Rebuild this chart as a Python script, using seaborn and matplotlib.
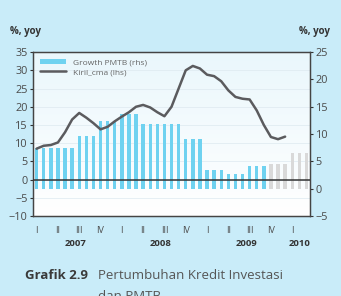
import numpy as np
import pandas as pd
import seaborn as sns
import matplotlib.pyplot as plt
from matplotlib.lines import Line2D
from matplotlib.patches import Patch
import matplotlib.transforms as mtransforms

# monthly bars, Jan 2007 .. Mar 2010 (quarterly values repeated per month)
pmtb_quarterly = [7.5, 7.5, 9.6, 12.4, 13.6, 11.9, 11.9, 9.1, 3.4, 2.7, 4.2, 4.5, 6.5]
pmtb_is_forecast = [False] * 11 + [True] * 2
# Kiril_cma, Jan 2007 .. Dec 2009
kiril_cma = [8.5, 9.3, 9.5, 10.2, 13.0, 16.5, 18.3, 17.0, 15.5, 13.8, 14.5, 16.0,
             17.3, 18.5, 20.0, 20.5, 19.8, 18.5, 17.4, 20.0, 25.0, 30.0, 31.2, 30.5,
             28.8, 28.4, 27.0, 24.5, 22.7, 22.2, 22.0, 19.0, 15.0, 11.7, 11.1, 11.8]
quarter_labels = ['I', 'II', 'III', 'IV']
years = ['2007', '2008', '2009', '2010']

bars = pd.DataFrame({
    'month': np.arange(len(pmtb_quarterly) * 3),
    'pmtb': np.repeat(pmtb_quarterly, 3),
    'kind': np.where(np.repeat(pmtb_is_forecast, 3), 'proj', 'real'),
})
line = pd.DataFrame({'month': np.arange(len(kiril_cma)), 'kiril': kiril_cma})

bg = '#c9ecf9'
bar_col = '#6fd2f0'
grey_bar = '#d9d9d9'
line_col = '#5b5b5e'
txt = '#4a4a4a'

sns.set_style('white')
plt.rcParams['font.family'] = ['Open Sans', 'DejaVu Sans']

fig = plt.figure(figsize=(3.41, 2.96), dpi=100, facecolor=bg)
ax = fig.add_axes([0.097, 0.27, 0.812, 0.554])
ax2 = ax.twinx()

# gradient plot background on the lower axis
grad = np.linspace(0, 1, 100).reshape(-1, 1)
ax2.imshow(grad, extent=[0, 1, 0, 1], transform=ax2.transAxes, aspect='auto',
           cmap=sns.blend_palette(['#ffffff', '#eaf7fc'], as_cmap=True),
           origin='lower', zorder=0)

sns.barplot(data=bars, x='month', y='pmtb', hue='kind',
            palette={'real': bar_col, 'proj': grey_bar}, dodge=False, saturation=1,
            width=0.48, linewidth=0, legend=False, ax=ax2, zorder=2)
ax2.set_ylim(-5, 25)
ax2.set_yticks(range(-5, 30, 5))

ax.set_zorder(ax2.get_zorder() + 1)
ax.patch.set_visible(False)
ax.set_ylim(-10, 35)
ax.set_yticks(range(-10, 40, 5))
for v in range(-5, 35, 5):
    ax2.axhline(ax2.get_ylim()[0] + (v + 10) * 30 / 45, color='#dde9f0', lw=0.5, zorder=1)
ax.axhline(0, color='#333333', lw=1.1, zorder=3)
sns.lineplot(data=line, x='month', y='kiril', color=line_col, lw=1.8, ax=ax, zorder=4)

n = len(bars)
ax.set_xlim(-0.5, n - 0.5)
ax2.set_xlim(-0.5, n - 0.5)
ax.set_xticks(range(n))
ax.set_xticklabels([quarter_labels[(i // 3) % 4] if i % 3 == 0 else '' for i in range(n)])
ax.tick_params(axis='x', direction='in', length=2, width=0.6, colors='#333333',
               labelcolor=txt, labelsize=6.5, pad=7)
ax.tick_params(axis='y', direction='out', length=2.5, width=0.8, colors='#333333',
               labelcolor=txt, labelsize=7.8, pad=1.5)
ax2.tick_params(axis='y', direction='out', length=2.5, width=0.8, colors='#333333',
                labelcolor=txt, labelsize=7.8, pad=1.5)
ax.set_xlabel('')
ax.set_ylabel('')
ax2.set_xlabel('')
ax2.set_ylabel('')
for a in (ax, ax2):
    for s in a.spines.values():
        s.set_color('#444444')
        s.set_linewidth(0.9)

trans = mtransforms.blended_transform_factory(ax.transData, ax.transAxes)
for k, y in enumerate(years):
    start = k * 12
    end = min(start + 12, n)
    ax.text((start + end - 1) / 2, -0.17, y, transform=trans, ha='center', va='center',
            fontsize=6.8, fontweight='bold', color='#333333')

fig.text(0.03, 0.885, '%, yoy', fontsize=7, fontweight='bold', color='#333333')
fig.text(0.968, 0.885, '%, yoy', fontsize=7, fontweight='bold', color='#333333', ha='right')

handles = [Patch(facecolor=bar_col, edgecolor='none'),
           Line2D([0], [0], color=line_col, lw=1.8)]
leg = ax.legend(handles, ['Growth PMTB (rhs)', 'Kiril_cma (lhs)'], loc='upper left',
                frameon=False, fontsize=6, handlelength=3.2, handleheight=0.6,
                labelspacing=0.25, borderaxespad=0.4)
for t in leg.get_texts():
    t.set_color('#666666')

fig.text(0.072, 0.068, 'Grafik 2.9', fontsize=9.5, fontweight='bold', color='#3a3a3a', va='center')
fig.text(0.288, 0.068, 'Pertumbuhan Kredit Investasi', fontsize=9.5, color='#555555', va='center')
fig.text(0.288, 0.0, 'dan PMTB', fontsize=9.5, color='#555555', va='center')

fig.savefig('out.png', dpi=100, facecolor=bg)
